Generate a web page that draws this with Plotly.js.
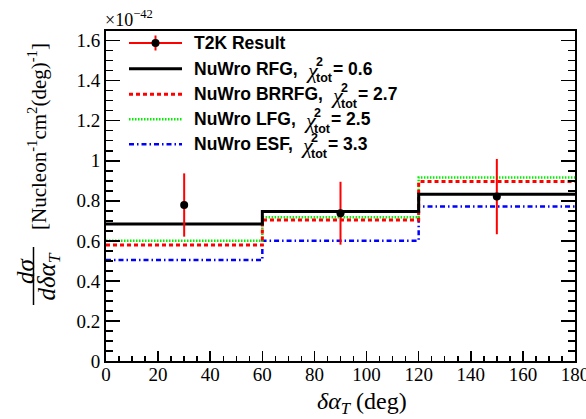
<!DOCTYPE html>
<html><head><meta charset="utf-8">
<script src="https://cdn.plot.ly/plotly-3.0.1.min.js"></script>
<style>html,body{margin:0;padding:0;background:#fff}#chart{width:586px;height:419px}</style>
</head><body><div id="chart"></div>
<script>
// ---- data (cross-section values in units of 1e-42) ----
const binEdges = [0, 60, 120, 180];
const binCenters = [30, 90, 150];
const t2kValues = [0.779, 0.738, 0.821];
const t2kErrors = [0.158, 0.157, 0.188];
const rfgValues = [0.684, 0.746, 0.833];
const brrfgValues = [0.579, 0.704, 0.896];
const lfgValues = [0.601, 0.718, 0.916];
const esfValues = [0.504, 0.601, 0.771];
const dataLabel = "T2K Result";
const modelNames = ["NuWro RFG, ", "NuWro BRRFG, ", "NuWro LFG, ", "NuWro ESF, "];
const chi2Values = ["0.6", "2.7", "2.5", "3.3"];

// ---- styles ----
const modelStyles = [
  {color: "#000000", width: 3, dash: "solid"},
  {color: "#ff0000", width: 3, dash: "4px,3px"},
  {color: "#00f000", width: 2.5, dash: "1.5px,1.5px"},
  {color: "#0000ff", width: 2.5, dash: "5px,3px,1.5px,3px"}
];
const modelValues = [rfgValues, brrfgValues, lfgValues, esfValues];

const W = 586, H = 419;
const M = {l: 106, r: 11, t: 31, b: 58};
const PW = W - M.l - M.r, PH = H - M.t - M.b;
const px = X => (X - M.l) / PW;
const py = Y => (H - M.b - Y) / PH;

function stepY(v) { return v.concat([v[v.length - 1]]); }

const traces = [];
for (let i = modelValues.length - 1; i >= 0; i--) {
  traces.push({
    type: "scatter", mode: "lines", x: binEdges, y: stepY(modelValues[i]),
    line: {shape: "hv", color: modelStyles[i].color, width: modelStyles[i].width, dash: modelStyles[i].dash},
    showlegend: false, hoverinfo: "skip"
  });
}
traces.push({
  type: "scatter", mode: "markers", x: binCenters, y: t2kValues,
  marker: {color: "#000", size: 8, symbol: "circle"},
  error_y: {type: "data", array: t2kErrors, visible: true, color: "#ff0000", thickness: 2, width: 0},
  showlegend: false
});

// ---- text measurement ----
const cv = document.createElement("canvas").getContext("2d");
function tw(text, font) { cv.font = font; return cv.measureText(text).width; }

const sans = "Liberation Sans", serif = "Liberation Serif";
const annotations = [];
const shapes = [];
function ann(X, Y, text, font, opts) {
  annotations.push(Object.assign({
    xref: "paper", yref: "paper", x: px(X), y: py(Y), text: text, showarrow: false,
    xanchor: "left", yanchor: "middle", borderpad: 0, font: font
  }, opts || {}));
}

// legend
const rowY = [43, 68.8, 94.2, 119.3, 144.3];
const sx0 = 129, sx1 = 182, textX = 193;
const legFont = {family: sans, size: 17.5, color: "#000", weight: "bold"};
// data row
shapes.push({type: "line", xref: "paper", yref: "paper", x0: px(sx0), x1: px(sx1), y0: py(rowY[0]), y1: py(rowY[0]), line: {color: "#ff0000", width: 2}});
shapes.push({type: "line", xref: "paper", yref: "paper", x0: px(155.5), x1: px(155.5), y0: py(rowY[0] - 7.5), y1: py(rowY[0] + 7.5), line: {color: "#ff0000", width: 2}});
shapes.push({type: "circle", xref: "paper", yref: "paper", x0: px(151.5), x1: px(159.5), y0: py(rowY[0] - 4), y1: py(rowY[0] + 4), fillcolor: "#000", line: {color: "#000", width: 0}});
ann(textX, rowY[0], "<b>" + dataLabel + "</b>", legFont);
for (let i = 0; i < modelNames.length; i++) {
  const Y = rowY[i + 1], st = modelStyles[i];
  shapes.push({type: "line", xref: "paper", yref: "paper", x0: px(sx0), x1: px(sx1), y0: py(Y), y1: py(Y), line: {color: st.color, width: st.width, dash: st.dash}});
  ann(textX, Y, "<b>" + modelNames[i] + "</b>", legFont);
  const chiX = textX + tw(modelNames[i], "bold 17.5px '" + sans + "'") + 3;
  ann(chiX, Y + 1.5, "<i>χ</i>", {family: serif, size: 22, color: "#000"});
  const supX = chiX + tw("χ", "italic 22px '" + serif + "'") + 0.5;
  ann(supX, Y + 1.5, "<b>2<br>tot</b>", {family: sans, size: 12.5, color: "#000"}, {align: "left"});
  const eqX = supX + tw("tot", "bold 12.5px '" + sans + "'") + 1.5;
  ann(eqX, Y, "<b>= " + chi2Values[i] + "</b>", legFont);
}

// exponent label
ann(104, 19, "×10<sup>−42</sup>", {family: serif, size: 18, color: "#000"}, {yanchor: "middle"});

// y-axis title: fraction + units
ann(25, 271, "<i>dσ</i>", {family: serif, size: 25, color: "#000"}, {xanchor: "center", textangle: -90});
shapes.push({type: "line", xref: "paper", yref: "paper", x0: px(33.5), x1: px(33.5), y0: py(247), y1: py(305), line: {color: "#000", width: 1.5}});
ann(47.5, 277, "<i>dδα<sub>T</sub></i>", {family: serif, size: 25, color: "#000"}, {xanchor: "center", textangle: -90});
ann(37, 137, "[Nucleon<sup>-1</sup>cm<sup>2</sup>(deg)<sup>-1</sup>]", {family: serif, size: 21, color: "#000"}, {xanchor: "center", textangle: -90});

// x-axis title
ann(362, 403, "<i>δα<sub>T</sub></i> (deg)", {family: serif, size: 24, color: "#000"}, {xanchor: "center"});

const tickFont = {family: serif, size: 19, color: "#000"};
const layout = {
  width: W, height: H, margin: M, paper_bgcolor: "#fff", plot_bgcolor: "#fff",
  showlegend: false,
  xaxis: {
    range: [0, 180], dtick: 20, tick0: 0, ticks: "inside", ticklen: 10, tickwidth: 1.5, tickcolor: "#000",
    showline: true, linecolor: "#000", linewidth: 2, mirror: true, showgrid: false, zeroline: false,
    ticklabeloverflow: "allow", ticklabelstandoff: -5,
    tickfont: tickFont, minor: {dtick: 5, ticks: "inside", ticklen: 5, tickwidth: 1.5, tickcolor: "#000", showgrid: false}
  },
  yaxis: {
    range: [0, 1.648], dtick: 0.2, tick0: 0, ticks: "inside", ticklen: 14, tickwidth: 1.5, tickcolor: "#000",
    showline: true, linecolor: "#000", linewidth: 2, mirror: "ticks", showgrid: false, zeroline: false,
    tickfont: tickFont, minor: {dtick: 0.05, ticks: "inside", ticklen: 7, tickwidth: 1.5, tickcolor: "#000", showgrid: false}
  },
  annotations: annotations, shapes: shapes
};
Plotly.newPlot("chart", traces, layout, {staticPlot: true, displayModeBar: false});
</script></body></html>
